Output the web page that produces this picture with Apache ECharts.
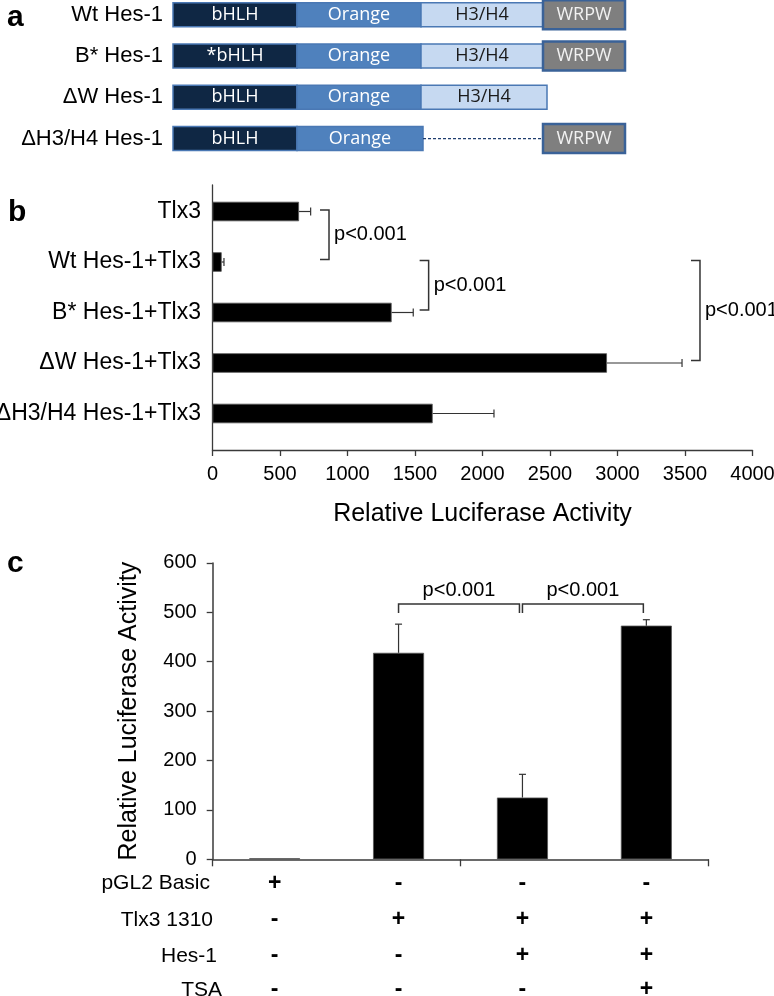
<!DOCTYPE html>
<html><head><meta charset="utf-8">
<script src="https://cdn.jsdelivr.net/npm/echarts@6/dist/echarts.min.js"></script>
<style>html,body{margin:0;padding:0;background:#fff}#c{width:774px;height:996px}</style>
</head><body><div id="c"></div>
<script>
// ---------- Panel a : domain diagram ----------
const constructs = ['Wt Hes-1', 'B* Hes-1', '\u0394W Hes-1', '\u0394H3/H4 Hes-1'];
const segRow    = [0, 0, 0, 0,   1, 1, 1, 1,   2, 2, 2,   3, 3, 3];
const segStart  = [0, 124, 248, 370,   0, 124, 248, 370,   0, 124, 248,   0, 124, 370];
const segEnd    = [124, 248, 370, 452, 124, 248, 370, 452, 124, 248, 374, 124, 250, 452];
const segDomain = [0, 1, 2, 3,   0, 1, 2, 3,   0, 1, 2,   0, 1, 3];
const segLabel  = ['bHLH', 'Orange', 'H3/H4', 'WRPW', '*bHLH', 'Orange', 'H3/H4', 'WRPW',
                   'bHLH', 'Orange', 'H3/H4', 'bHLH', 'Orange', 'WRPW'];
const gapRow = [3], gapStart = [250], gapEnd = [370];

// ---------- Panel b ----------
const catB = ['Tlx3', 'Wt Hes-1+Tlx3', 'B* Hes-1+Tlx3', '\u0394W Hes-1+Tlx3', '\u0394H3/H4 Hes-1+Tlx3'];
const valB = [641, 68, 1327, 2922, 1631];
const errB = [86, 17, 160, 556, 454];
const brkBFrom = [0, 1, 1];
const brkBTo   = [1, 2, 3];
const brkBLabel = ['p<0.001', 'p<0.001', 'p<0.001'];
const ticksB = [0, 500, 1000, 1500, 2000, 2500, 3000, 3500, 4000];

// ---------- Panel c ----------
const catC = ['pGL2 Basic', 'Tlx3 1310', 'Tlx3 1310 + Hes-1', 'Tlx3 1310 + Hes-1 + TSA'];
const valC = [2, 418, 125, 473];
const errC = [0, 58, 47, 12];
const ticksC = [0, 100, 200, 300, 400, 500, 600];
const brkCFrom = [1, 2];
const brkCTo   = [2, 3];
const brkCLabel = ['p<0.001', 'p<0.001'];
const tableRows = ['pGL2 Basic', 'Tlx3 1310', 'Hes-1', 'TSA'];
const condPGL2 = ['+', '-', '-', '-'];
const condTlx3 = ['-', '+', '+', '+'];
const condHes1 = ['-', '-', '+', '+'];
const condTSA  = ['-', '-', '-', '+'];

// ---------- styling ----------
const FF = '"Liberation Sans", Arial, sans-serif';
const domainFill = ['#0f2744', '#4f81bd', '#c6d9f1', '#7f7f7f'];
const domainText = ['#ffffff', '#ffffff', '#1a1a1a', '#f2f2f2'];
const AX = '#3a3a3a';

const chart = echarts.init(document.getElementById('c'));

function domainItem(params, api) {
  const i = params.dataIndex;
  const r = api.value(1), d = api.value(3);
  const s = api.coord([api.value(0), r]);
  const e = api.coord([api.value(2), r]);
  const h = d === 3 ? 29 : 24;
  return {
    type: 'rect',
    shape: {x: s[0], y: s[1] - h / 2, width: e[0] - s[0], height: h},
    style: {fill: domainFill[d], stroke: d === 3 ? '#3a6298' : '#4a78b4', lineWidth: d === 3 ? 2.5 : 1.5},
    textContent: {style: {text: segLabel[i], fill: domainText[d], font: '18px "Open Sans", sans-serif'}},
    textConfig: {position: 'inside'}
  };
}
function gapItem(params, api) {
  const s = api.coord([api.value(0), api.value(1)]);
  const e = api.coord([api.value(2), api.value(1)]);
  return {type: 'line', shape: {x1: s[0], y1: s[1], x2: e[0], y2: e[1]},
          style: {stroke: '#1f3d6e', lineWidth: 1.2, lineDash: [3, 2]}};
}
function errBItem(params, api) {
  const v = api.value(0), c = api.value(1), e = api.value(2);
  const p0 = api.coord([v, c]), p1 = api.coord([v + e, c]);
  return {type: 'group', children: [
    {type: 'line', shape: {x1: p0[0], y1: p0[1], x2: p1[0], y2: p1[1]}, style: {stroke: '#333', lineWidth: 1.2}},
    {type: 'line', shape: {x1: p1[0], y1: p1[1] - 4, x2: p1[0], y2: p1[1] + 4}, style: {stroke: '#333', lineWidth: 1.2}}
  ]};
}
const BRK_B_X = [863, 1601, 3611];
function brkBItem(params, api) {
  const i = params.dataIndex;
  const a = api.coord([BRK_B_X[i], api.value(0)]);
  const b = api.coord([BRK_B_X[i], api.value(1)]);
  const x = a[0], y1 = a[1] - 1.5, y2 = b[1] - 2.5;
  return {type: 'group', children: [
    {type: 'polyline', shape: {points: [[x - 9, y1], [x, y1], [x, y2], [x - 9, y2]]},
     style: {stroke: '#333', lineWidth: 1.5, fill: null}},
    {type: 'text', x: x + 5, y: (y1 + y2) / 2,
     style: {text: brkBLabel[i], fill: '#000', font: '20px ' + FF, align: 'left', verticalAlign: 'middle'}}
  ]};
}
function errCItem(params, api) {
  const c = api.value(0), v = api.value(1), e = api.value(2);
  if (!e) return null;
  const p0 = api.coord([c, v]), p1 = api.coord([c, v + e]);
  return {type: 'group', children: [
    {type: 'line', shape: {x1: p0[0], y1: p0[1], x2: p1[0], y2: p1[1]}, style: {stroke: '#333', lineWidth: 1.2}},
    {type: 'line', shape: {x1: p1[0] - 3.5, y1: p1[1], x2: p1[0] + 3.5, y2: p1[1]}, style: {stroke: '#333', lineWidth: 1.2}}
  ]};
}
const BRK_C_Y = 517;
function brkCItem(params, api) {
  const i = params.dataIndex;
  const a = api.coord([api.value(0), BRK_C_Y]);
  const b = api.coord([api.value(1), BRK_C_Y]);
  const x1 = a[0], x2 = b[0] - 3, y = a[1];
  return {type: 'group', children: [
    {type: 'polyline', shape: {points: [[x1, y + 9], [x1, y], [x2, y], [x2, y + 9]]},
     style: {stroke: '#333', lineWidth: 1.5, fill: null}},
    {type: 'text', x: (x1 + x2) / 2, y: y - 13,
     style: {text: brkCLabel[i], fill: '#000', font: '20px ' + FF, align: 'center', verticalAlign: 'middle'}}
  ]};
}

const tableConds = [condPGL2, condTlx3, condHes1, condTSA];
const tableOffsets = [24, 60.7, 96.7, 130.7];
const tableNameGap = [2.7, -0.3, -4.3, -9.3];
const tableAxes = tableRows.map((name, k) => ({
  gridIndex: 3, type: 'category', data: catC, position: 'bottom', offset: tableOffsets[k],
  axisLine: {show: false}, axisTick: {show: false}, splitLine: {show: false},
  axisLabel: {interval: 0, margin: 0, verticalAlign: 'middle', fontSize: 23, fontWeight: 'bold',
              color: '#000', fontFamily: FF, formatter: (v, idx) => tableConds[k][idx]},
  name: name, nameLocation: 'start', nameGap: tableNameGap[k],
  nameTextStyle: {fontSize: 21, color: '#000', fontFamily: FF, verticalAlign: 'middle'}
}));

const option = {
  animation: false,
  backgroundColor: '#fff',
  textStyle: {fontFamily: FF},
  graphic: [
    {type: 'text', left: 7, top: 18 - 15, style: {text: 'a', font: 'bold 30px ' + FF, fill: '#000'}},
    {type: 'text', left: 8, top: 213 - 15, style: {text: 'b', font: 'bold 30px ' + FF, fill: '#000'}},
    {type: 'text', left: 7, top: 564 - 15, style: {text: 'c', font: 'bold 30px ' + FF, fill: '#000'}}
  ],
  grid: [
    {left: 173, top: -6, width: 452, height: 165.2, outerBoundsMode: 'none', containLabel: false},
    {left: 212.5, top: 185, width: 540, height: 265, outerBoundsMode: 'none', containLabel: false},
    {left: 212.5, top: 186.25, width: 540, height: 252.5, outerBoundsMode: 'none', containLabel: false},
    {left: 212.7, top: 562.9, width: 495.6, height: 296.4, outerBoundsMode: 'none', containLabel: false}
  ],
  xAxis: [
    {gridIndex: 0, type: 'value', min: 0, max: 452, show: false},
    {gridIndex: 1, type: 'value', min: 0, max: 1, show: false},
    {gridIndex: 2, type: 'value', min: ticksB[0], max: ticksB[ticksB.length - 1], interval: 500, offset: 11.25,
     axisLine: {show: true, lineStyle: {color: AX, width: 1.3}},
     axisTick: {show: true, length: 6, lineStyle: {color: AX, width: 1.3}},
     axisLabel: {fontSize: 20, color: '#000', margin: 14, fontFamily: FF, formatter: v => String(v)},
     splitLine: {show: false},
     name: 'Relative Luciferase Activity', nameLocation: 'middle', nameGap: 52,
     nameTextStyle: {fontSize: 25, color: '#000', fontFamily: FF}},
    {gridIndex: 3, type: 'category', data: catC,
     axisLine: {show: true, lineStyle: {color: AX, width: 1.5}},
     axisTick: {show: true, length: 7, lineStyle: {color: AX, width: 1.3}},
     axisLabel: {show: false}, splitLine: {show: false}},
    ...tableAxes
  ],
  yAxis: [
    {gridIndex: 0, type: 'category', data: constructs, inverse: true,
     axisLine: {show: false}, axisTick: {show: false},
     axisLabel: {fontSize: 22, color: '#000', margin: 10, fontFamily: FF}},
    {gridIndex: 1, type: 'value', min: 0, max: 1,
     axisLine: {show: true, lineStyle: {color: AX, width: 1.3}},
     axisTick: {show: false}, axisLabel: {show: false}, splitLine: {show: false}},
    {gridIndex: 2, type: 'category', data: catB, inverse: true,
     axisLine: {show: false}, axisTick: {show: false},
     axisLabel: {fontSize: 23, color: '#000', margin: 11.5, fontFamily: FF}},
    {gridIndex: 3, type: 'value', min: ticksC[0], max: ticksC[ticksC.length - 1], interval: 100,
     axisLine: {show: true, lineStyle: {color: AX, width: 1.5}},
     axisTick: {show: true, length: 6, lineStyle: {color: AX, width: 1.3}},
     axisLabel: {fontSize: 20, color: '#000', margin: 16, fontFamily: FF},
     splitLine: {show: false},
     name: 'Relative Luciferase Activity', nameLocation: 'middle', nameRotate: 90, nameGap: 71,
     nameTextStyle: {fontSize: 25, color: '#000', fontFamily: FF}}
  ],
  series: [
    {type: 'custom', xAxisIndex: 0, yAxisIndex: 0, renderItem: domainItem,
     encode: {x: [0, 2], y: 1},
     data: segRow.map((r, i) => [segStart[i], r, segEnd[i], segDomain[i]])},
    {type: 'custom', xAxisIndex: 0, yAxisIndex: 0, renderItem: gapItem,
     encode: {x: [0, 2], y: 1},
     data: gapRow.map((r, i) => [gapStart[i], r, gapEnd[i]])},
    {type: 'bar', xAxisIndex: 2, yAxisIndex: 2, data: valB, barWidth: 19.5,
     itemStyle: {color: '#000', borderColor: '#555', borderWidth: 0.8}},
    {type: 'custom', xAxisIndex: 2, yAxisIndex: 2, renderItem: errBItem,
     encode: {x: 0, y: 1}, z: 3,
     data: valB.map((v, i) => [v, i, errB[i]])},
    {type: 'custom', xAxisIndex: 2, yAxisIndex: 2, renderItem: brkBItem,
     encode: {y: [0, 1]}, z: 3,
     data: brkBFrom.map((f, i) => [f, brkBTo[i]])},
    {type: 'bar', xAxisIndex: 3, yAxisIndex: 3, data: valC, barWidth: 51,
     itemStyle: {color: '#000', borderColor: '#555', borderWidth: 0.8}},
    {type: 'custom', xAxisIndex: 3, yAxisIndex: 3, renderItem: errCItem,
     encode: {x: 0, y: 1}, z: 3,
     data: valC.map((v, i) => [i, v, errC[i]])},
    {type: 'custom', xAxisIndex: 3, yAxisIndex: 3, renderItem: brkCItem,
     encode: {x: [0, 1]}, z: 3,
     data: brkCFrom.map((f, i) => [f, brkCTo[i]])}
  ]
};
chart.setOption(option);
</script></body></html>
